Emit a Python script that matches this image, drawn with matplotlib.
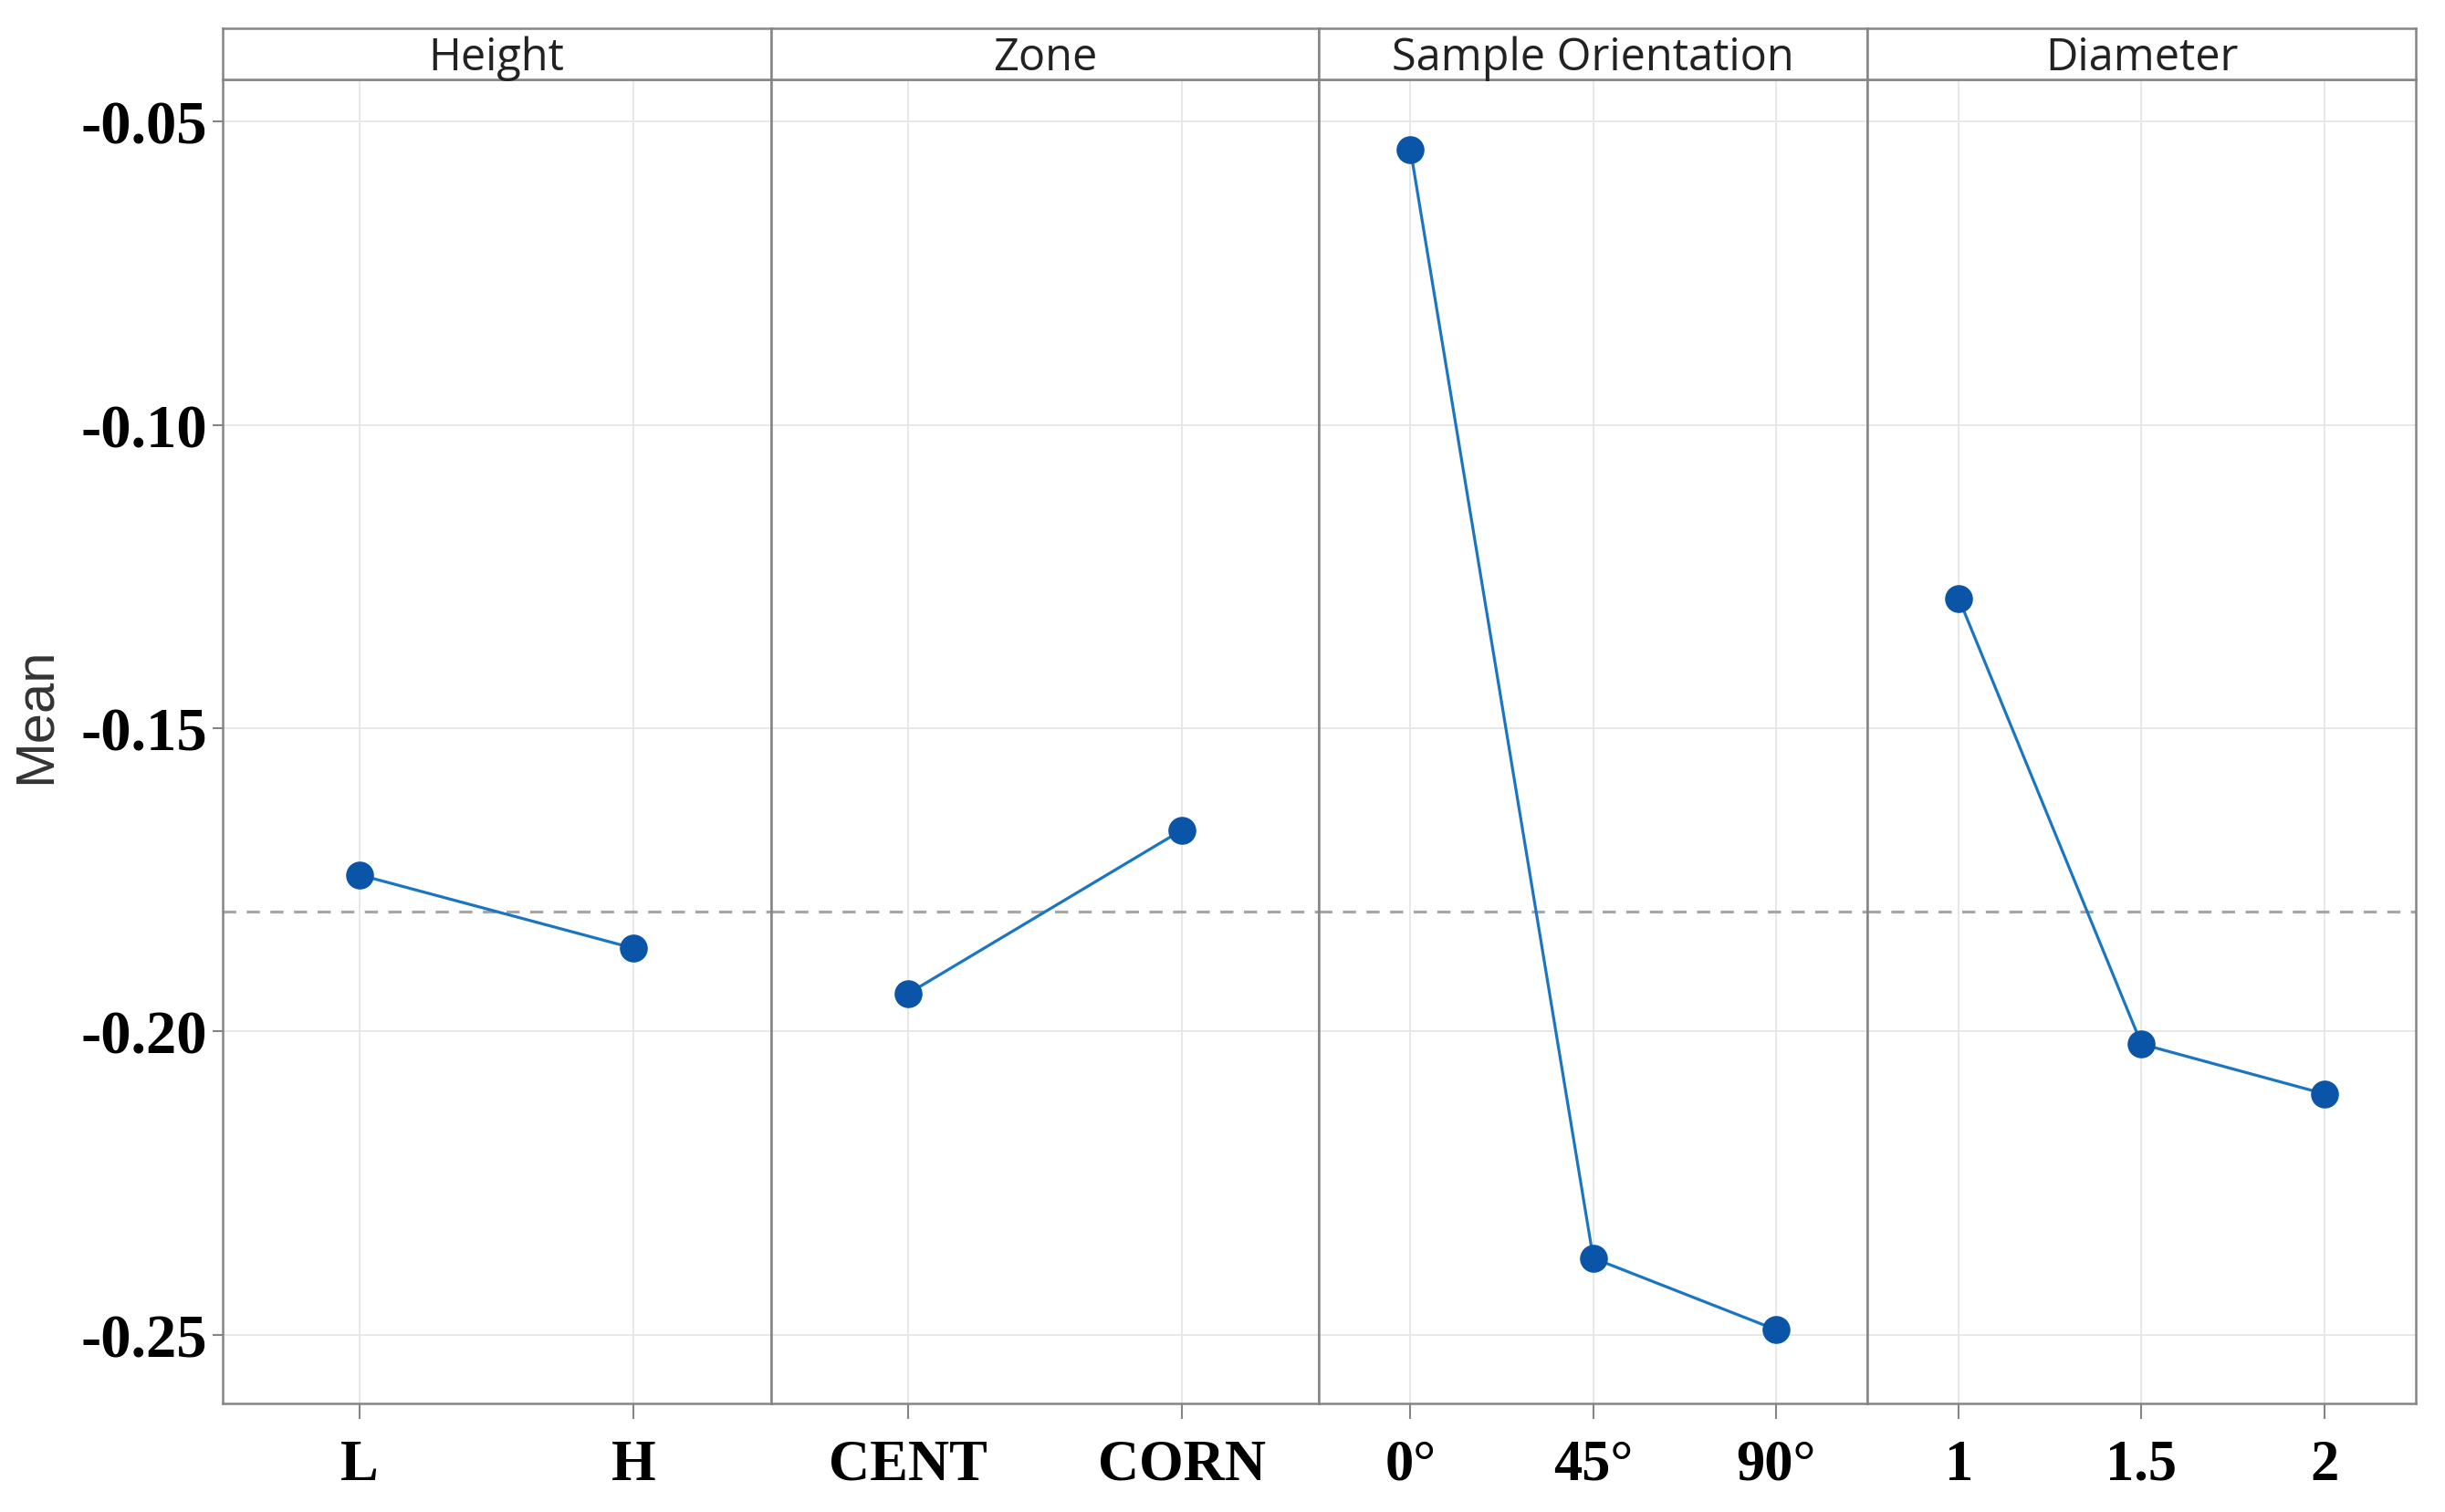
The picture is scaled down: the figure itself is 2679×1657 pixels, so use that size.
import matplotlib
matplotlib.use("Agg")
import matplotlib.pyplot as plt

# Main effects data
FACTORS = ["Height", "Zone", "Sample Orientation", "Diameter"]
LEVELS = [
    ["L", "H"],
    ["CENT", "CORN"],
    ["0°", "45°", "90°"],
    ["1", "1.5", "2"],
]
MEANS = [
    [-0.1742, -0.1863],
    [-0.1938, -0.1668],
    [-0.0546, -0.2374, -0.2492],
    [-0.1286, -0.2021, -0.2103],
]
GRAND_MEAN = -0.1803
Y_TICKS = [-0.05, -0.10, -0.15, -0.20, -0.25]
Y_LABELS = ["-0.05", "-0.10", "-0.15", "-0.20", "-0.25"]

# Settings for the plot
FIG_SIZE = (26.79, 16.58)
FIG_DPI = 100
LEFT, RIGHT = 0.091, 0.988
BOTTOM, TOP = 0.072, 0.947
STRIP_H = 0.034
SPINE_COLOR = "#858585"
GRID_COLOR = "#e8e8e8"
LINE_COLOR = "#1a75c2"
MARKER_COLOR = "#0a55a8"

TICK_FONT = dict(family="Liberation Serif", weight="bold", size=45)
YTICK_FONT = dict(family="Liberation Serif", weight="bold", size=48)
STRIP_FONT = dict(family="Open Sans", size=35, color="#222222")


def _style_panel(ax):
    for spine in ax.spines.values():
        spine.set_color(SPINE_COLOR)
        spine.set_linewidth(1.8)
    ax.grid(True, color=GRID_COLOR, linewidth=1.4)
    ax.set_axisbelow(True)
    ax.tick_params(axis="both", colors=SPINE_COLOR, width=1.5)
    ax.tick_params(axis="x", length=12, pad=16)
    ax.tick_params(axis="y", length=8, pad=4)


def _add_strip(fig, x0, w, name):
    sax = fig.add_axes([x0, TOP, w, STRIP_H])
    sax.set_xticks([])
    sax.set_yticks([])
    for spine in sax.spines.values():
        spine.set_color(SPINE_COLOR)
        spine.set_linewidth(1.8)
    sax.text(0.5, 0.42, name, ha="center", va="center", transform=sax.transAxes, **STRIP_FONT)


fig = plt.figure(figsize=FIG_SIZE, dpi=FIG_DPI)
panel_w = (RIGHT - LEFT) / len(FACTORS)

for i, (name, levels, means) in enumerate(zip(FACTORS, LEVELS, MEANS)):
    x0 = LEFT + i * panel_w
    ax = fig.add_axes([x0, BOTTOM, panel_w, TOP - BOTTOM])
    xs = list(range(1, len(levels) + 1))

    ax.axhline(GRAND_MEAN, color="#a6a6a6", linestyle=(0, (4.5, 3.6)), linewidth=2.3, zorder=1)
    ax.plot(xs, means, color=LINE_COLOR, linewidth=2.3, zorder=2)
    ax.plot(xs, means, "o", color=MARKER_COLOR, markersize=21, zorder=3)

    ax.set_xlim(0.5, len(levels) + 0.5)
    ax.set_ylim(-0.2613, -0.043)
    ax.set_xticks(xs)
    ax.set_xticklabels(levels, **TICK_FONT)
    ax.set_yticks(Y_TICKS)
    _style_panel(ax)

    if i == 0:
        ax.set_yticklabels(Y_LABELS, **YTICK_FONT)
        ax.set_ylabel("Mean", family="Liberation Sans", size=43, color="#333333")
        ax.yaxis.set_label_coords(-0.295, 0.52)
    else:
        ax.tick_params(axis="y", length=0, labelleft=False)

    for lab in ax.get_xticklabels() + ax.get_yticklabels():
        lab.set_color("black")

    _add_strip(fig, x0, panel_w, name)

fig.savefig("out.png", dpi=FIG_DPI)
plt.close()
